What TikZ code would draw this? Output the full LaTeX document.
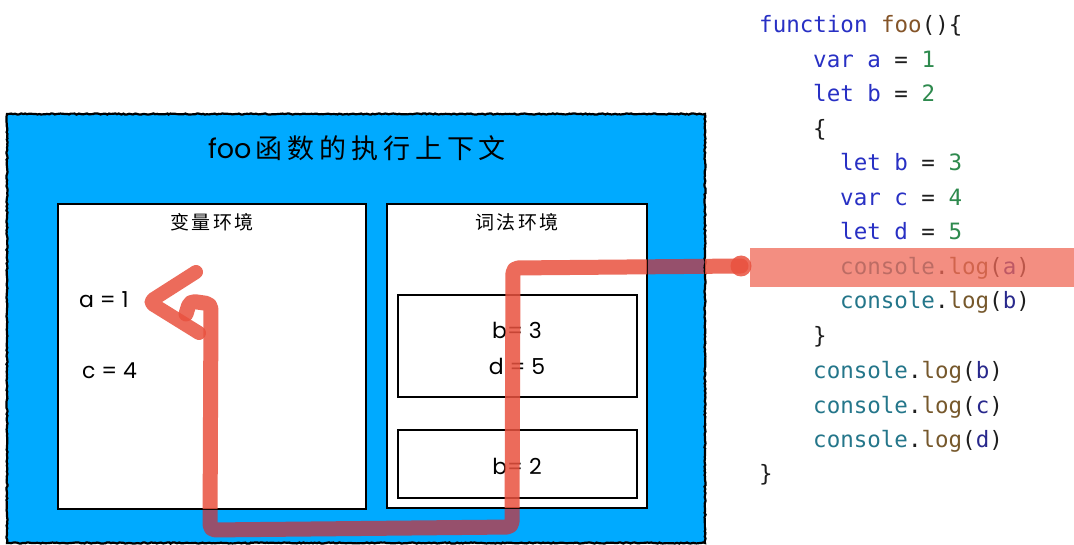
\documentclass[tikz,border=0pt]{standalone}
\usepackage{fontspec}
\usetikzlibrary{decorations.pathmorphing}
\newfontfamily\codefont{DejaVu Sans Mono}
\newfontfamily\latinfont{Poppins}
\newfontfamily\cjkfont{Noto Sans CJK SC}
\definecolor{frameblue}{RGB}{0,170,255}
\definecolor{kwblue}{RGB}{40,48,196}
\definecolor{fnbrown}{RGB}{132,84,40}
\definecolor{numgreen}{RGB}{46,138,78}
\definecolor{objteal}{RGB}{36,118,138}
\definecolor{logbrown}{RGB}{118,88,44}
\definecolor{argnavy}{RGB}{40,40,140}
\definecolor{punct}{RGB}{30,30,30}
\definecolor{trailsalmon}{RGB}{233,82,63}
\definecolor{traildark}{RGB}{150,80,108}
\definecolor{barsalmon}{RGB}{240,105,88}
\newcommand\kwd[1]{\textcolor{kwblue}{#1}}
\newcommand\num[1]{\textcolor{numgreen}{#1}}
\newcommand\cons[1]{\textcolor{objteal}{console}\textcolor{punct}{.}\textcolor{logbrown}{log}\textcolor{punct}{(}\textcolor{argnavy}{#1}\textcolor{punct}{)}}
\tikzset{
  whitebox/.style={draw=black, fill=white, line width=2pt, inner sep=0pt, outer sep=0pt},
  innerbox/.style={draw=black, line width=1.8pt, inner sep=0pt, outer sep=0pt},
  codeline/.style={anchor=base west, inner sep=0pt, font=\codefont\fontsize{22.5}{24}\selectfont, text=punct},
  title/.style={inner sep=0pt, font=\cjkfont\fontsize{27}{30}\selectfont, text=black},
  envlabel/.style={inner sep=0pt, font=\cjkfont\fontsize{19}{22}\selectfont, text=black},
  binding/.style={inner sep=0pt, font=\latinfont\fontsize{22}{24}\selectfont, text=black},
  trail/.style={line width=15pt, line cap=round, line join=round, rounded corners=5pt},
}
\begin{document}
\begin{tikzpicture}[x=1pt, y=-1pt]
\useasboundingbox (0,0) rectangle (1074,545);
\fill[white] (0,0) rectangle (1074,545);

% execution context frame
\node[fill=frameblue, inner sep=0pt, outer sep=0pt, minimum width=698pt, minimum height=429pt] (frame) at (356,328.5) {};

% path of the lookup, waypoints
\coordinate (t0) at (741,266);
\coordinate (t1) at (513,268);
\coordinate (t2) at (512,527);
\coordinate (t3) at (210,530);
\coordinate (t4) at (211,304);
\coordinate (t5) at (190,301);
\coordinate (t6) at (186,314);
\coordinate (h1) at (196,272);
\coordinate (h2) at (149,302);
\coordinate (h3) at (199,333);

% trail where it crosses the blue frame
\begin{scope}
  \clip (frame.north west) rectangle (frame.south east);
  \draw[trail, draw=traildark] (t0) -- (t1) -- (t2) -- (t3) -- (t4) -- (t5) -- (t6);
\end{scope}

% frame outline, slightly rough
\draw[line width=2.2pt, decorate, decoration={random steps, segment length=2pt, amplitude=0.6pt}]
  (frame.north west) rectangle (frame.south east);

% environments
\node[whitebox, minimum width=308pt, minimum height=305pt] (varenv) at (212,356.5) {};
\node[whitebox, minimum width=260pt, minimum height=304pt] (lexenv) at (517,356) {};
\node[innerbox, minimum width=239pt, minimum height=102pt] (blockscope) at (517.5,346) {};
\node[innerbox, minimum width=239pt, minimum height=68pt] (fnscope) at (517.5,464) {};

\node[title] (ctxtitle) at (357,148) {\latinfont foo\cjkfont\addfontfeatures{LetterSpace=18}\,函数的执行上下文};
\node[envlabel] (varlabel) at (212,222) {\addfontfeatures{LetterSpace=12}变量环境};
\node[envlabel] (lexlabel) at (517,222) {\addfontfeatures{LetterSpace=12}词法环境};

\node[binding, anchor=west] (va) at (79,300) {a = 1};
\node[binding, anchor=west] (vc) at (82,371) {c = 4};
\node[binding] (lb3) at (517,330) {b= 3};
\node[binding] (ld5) at (517,366) {d = 5};
\node[binding] (lb2) at (517,466) {b= 2};

% source code
\node[codeline] (c1)  at (759,33)  {\kwd{function} \textcolor{fnbrown}{foo}()\{};
\node[codeline] (c2)  at (813,68)  {\kwd{var} \textcolor{kwblue}{a} = \num{1}};
\node[codeline] (c3)  at (813,102) {\kwd{let} \textcolor{kwblue}{b} = \num{2}};
\node[codeline] (c4)  at (813,137) {\{};
\node[codeline] (c5)  at (840,171) {\kwd{let} \textcolor{kwblue}{b} = \num{3}};
\node[codeline] (c6)  at (840,206) {\kwd{var} \textcolor{kwblue}{c} = \num{4}};
\node[codeline] (c7)  at (840,240) {\kwd{let} \textcolor{kwblue}{d} = \num{5}};
\node[codeline] (c8)  at (840,275) {\cons{a}};
\node[codeline] (c9)  at (840,309) {\cons{b}};
\node[codeline] (c10) at (813,344) {\}};
\node[codeline] (c11) at (813,378) {\cons{b}};
\node[codeline] (c12) at (813,413) {\cons{c}};
\node[codeline] (c13) at (813,447) {\cons{d}};
\node[codeline] (c14) at (759,481) {\}};

% highlight of the running statement
\node[fill=barsalmon, fill opacity=0.75, inner sep=0pt, outer sep=0pt, minimum width=324pt, minimum height=39pt] (hl) at (912,267.5) {};

% trail over the white areas
\begin{scope}
  \clip (varenv.north west) rectangle (varenv.south east)
        (lexenv.north west) rectangle (lexenv.south east)
        (frame.north east) rectangle (1074,545);
  \begin{scope}[opacity=0.85]
    \draw[trail, draw=trailsalmon] (t0) -- (t1) -- (t2) -- (t3) -- (t4) -- (t5) -- (t6);
    \draw[trail, draw=trailsalmon, line width=14pt] (h1) -- (h2) -- (h3);
    \fill[trailsalmon] (t0) circle[radius=10.5pt];
  \end{scope}
\end{scope}
\end{tikzpicture}
\end{document}
